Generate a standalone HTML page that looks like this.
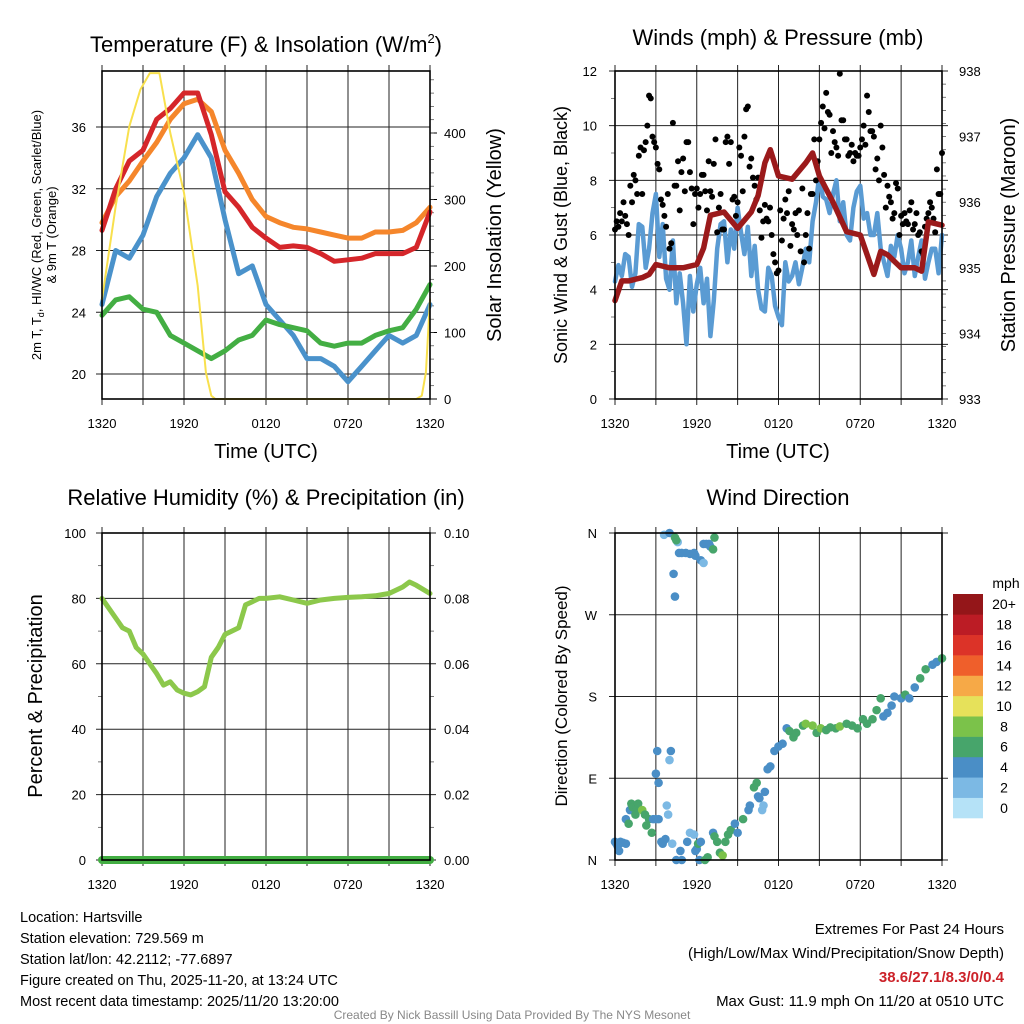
<!DOCTYPE html>
<html><head><meta charset="utf-8">
<style>
html,body{margin:0;padding:0;background:#fff;}
svg{display:block;font-family:"Liberation Sans",sans-serif;}
</style></head>
<body>
<svg id="chart" width="1024" height="1024" viewBox="0 0 1024 1024" xmlns="http://www.w3.org/2000/svg">
<rect width="1024" height="1024" fill="#fff"/>
<g id="layer"></g>
<text x="266" y="52" font-size="22" text-anchor="middle">Temperature (F) &amp; Insolation (W/m<tspan font-size="13" dy="-9">2</tspan><tspan dy="9">)</tspan></text>
<text x="778" y="45" font-size="22" text-anchor="middle">Winds (mph) &amp; Pressure (mb)</text>
<text x="266" y="505" font-size="22" text-anchor="middle">Relative Humidity (%) &amp; Precipitation (in)</text>
<text x="778" y="505" font-size="22" text-anchor="middle">Wind Direction</text>

<text transform="translate(41,235) rotate(-90)" font-size="13" text-anchor="middle">2m T, T<tspan font-size="9" dy="3">d</tspan><tspan dy="-3">, HI/WC (Red, Green, Scarlet/Blue)</tspan></text>
<text transform="translate(56,235) rotate(-90)" font-size="13" text-anchor="middle">&amp; 9m T (Orange)</text>
<text transform="translate(501,235) rotate(-90)" font-size="20" text-anchor="middle">Solar Insolation (Yellow)</text>
<text transform="translate(567,235) rotate(-90)" font-size="18" text-anchor="middle">Sonic Wind &amp; Gust (Blue, Black)</text>
<text transform="translate(1015,235) rotate(-90)" font-size="20" text-anchor="middle">Station Pressure (Maroon)</text>
<text transform="translate(42,696) rotate(-90)" font-size="20" text-anchor="middle">Percent &amp; Precipitation</text>
<text transform="translate(567,696) rotate(-90)" font-size="17" text-anchor="middle">Direction (Colored By Speed)</text>
<text x="266" y="458" font-size="20" text-anchor="middle">Time (UTC)</text>
<text x="778" y="458" font-size="20" text-anchor="middle">Time (UTC)</text>

<g font-size="14.5">
<text x="20" y="922">Location: Hartsville</text>
<text x="20" y="943">Station elevation: 729.569 m</text>
<text x="20" y="964">Station lat/lon: 42.2112; -77.6897</text>
<text x="20" y="985">Figure created on Thu, 2025-11-20, at 13:24 UTC</text>
<text x="20" y="1006">Most recent data timestamp: 2025/11/20 13:20:00</text>
</g>
<g font-size="15" text-anchor="end">
<text x="1004" y="934">Extremes For Past 24 Hours</text>
<text x="1004" y="958">(High/Low/Max Wind/Precipitation/Snow Depth)</text>
<text x="1004" y="982" fill="#cc2229" font-weight="bold">38.6/27.1/8.3/0/0.4</text>
<text x="1004" y="1006">Max Gust: 11.9 mph On 11/20 at 0510 UTC</text>
</g>
<text x="512" y="1019" font-size="12" fill="#888" text-anchor="middle">Created By Nick Bassill Using Data Provided By The NYS Mesonet</text>
</svg>
<script>
// ---- data (hours since 1320 UTC) ----
const xTickLabels = ["1320","1920","0120","0720","1320"];
const tempHours = [0,1,2,3,4,5,6,7,8,9,10,11,12,13,14,15,16,17,18,19,20,21,22,23,24];
const tempRed = [29.3,32,33.8,34.5,36.5,37.2,38.2,38.2,35.5,31.8,30.8,29.5,28.8,28.2,28.3,28.2,27.8,27.3,27.4,27.5,27.8,27.8,27.8,28.2,30.5];
const tempOrange = [29.8,31.5,32.5,33.8,35,36.5,37.5,37.8,37,34.5,33,31.3,30.2,29.8,29.5,29.4,29.2,29,28.8,28.8,29.2,29.2,29.3,29.8,30.8];
const tempBlue = [24.5,28,27.5,29,31.5,33,34,35.5,34,30,26.5,27,24.5,23.5,22.5,21,21,20.5,19.5,20.5,21.5,22.5,22,22.5,24.5];
const tempGreen = [23.8,24.8,25,24.2,24,22.5,22,21.5,21,21.5,22.2,22.5,23.5,23.2,23,22.8,22,21.8,22,22,22.5,22.8,23,24.2,25.8];
const solarHours = [0,1,2,2.8,3.5,4.2,5,6,7,7.6,8,8.3,23,23.4,23.7,24];
const solarValues = [150,290,410,465,490,490,400,310,170,40,5,0,0,5,40,150];
const tempTicks = [20,24,28,32,36];
const solarTicks = [0,100,200,300,400];

// wind speed every 15 min
const windSpeed = [4.3,4.9,4.5,5.3, 5.2,4.1,4.6,6.4, 6.3,4.8,5.5,6.8, 7.5,5.2,6.4,4.4, 4.0,5.8,3.5,4.6, 3.5,2.0,4.5,3.2, 4.2,4.8,3.5,4.4, 2.3,3.6,5.5,6.4, 6.5,5.0,6.2,5.5, 7.0,6.1,5.3,6.3, 4.5,5.6,4.0,3.3, 3.2,4.8,4.5,3.4, 3.0,2.7,5.0,4.3, 4.5,5.0,4.2,4.8, 5.5,5.0,6.5,7.2, 8.2,7.4,7.3,6.8, 7.5,8.0,6.5,7.2, 6.0,5.8,7.0,7.6, 7.8,6.6,6.8,6.0, 6.0,6.8,5.5,5.0, 4.5,5.6,5.2,6.0, 5.5,4.6,5.0,5.8, 4.5,5.2,5.8,4.4, 5.0,5.5,5.5,4.6, 6.0];
// gusts every 15 min (on the quarter hour) and offset by 7.5 min
const gustValues = [6.2,6.3,6.5,6.7,6.0,7.2,8.0,8.9,7.5,9.4,11.1,9.6,9.2,8.4,7.1,6.3,5.5,10.1,7.8,6.9,8.8,9.4,8.3,6.4,7.7,7.5,8.2,6.9,7.6,8.6,6.1,7.5,6.2,9.6,9.4,7.4,7.2,8.9,9.6,10.7,8.8,7.8,8.1,5.9,7.1,6.5,6.0,5.0,4.7,5.8,7.3,7.6,6.4,6.8,6.9,7.7,6.0,5.5,7.5,8.0,9.5,10.7,11.2,10.4,9.8,9.2,11.9,10.2,9.5,9.0,8.7,8.9,9.2,10.0,11.1,9.8,9.6,8.8,10.0,8.2,7.8,7.2,6.8,7.7,6.7,6.8,6.4,7.2,6.4,6.0,5.4,6.3,6.8,7.0,6.1,7.5,9.0];
const gustValuesOffset = [6.5,6.8,7.2,6.4, 7.8,8.2,7.5,9.2, 9.1,10.0,11.0,9.4, 8.6,7.3,6.7,7.5, 5.7,7.8,8.7,8.3, 7.6,9.4,7.7,7.5, 7.0,8.2,7.6,8.7, 7.4,9.5,7.0,6.2, 9.4,8.6,7.3,6.7, 9.2,7.6,10.6,8.5, 8.1,7.3,6.9,6.5, 6.6,7.0,5.3,4.6, 6.9,6.6,6.8,5.6, 6.2,6.0,5.4,5.0, 6.8,7.5,9.5,8.7, 10.1,9.9,10.5,9.0, 9.4,8.9,10.2,9.5, 8.9,9.3,9.0,8.9, 9.5,9.3,10.5,9.8, 8.4,8.0,9.2,7.0, 7.4,6.6,7.9,6.0, 6.4,6.5,6.9,6.2, 6.8,6.1,5.3,6.6, 7.2,6.6,8.4,7.5];
const pressHours = [0,0.5,1,2,2.5,3,4,5,6,6.5,7,8,9,10,10.5,11,11.4,12,13,14,14.5,15,16,17,18,19,19.5,20,21,22,22.5,23,24];
const pressValues = [934.5,934.8,934.8,934.85,934.9,935.05,935.0,935.0,935.05,935.3,935.8,935.85,935.6,935.85,936.1,936.6,936.8,936.4,936.35,936.6,936.75,936.4,936.0,935.55,935.5,934.9,935.25,935.2,935.0,935.0,934.95,935.7,935.65];
const windTicks = [0,2,4,6,8,10,12];
const pressTicks = [933,934,935,936,937,938];

const rhHours = [0,1,1.5,2,2.5,3,3.5,4,4.5,5,5.5,6,6.5,7,7.5,8,8.5,9,9.5,10,10.5,11,11.5,12,13,14,15,16,17,18,19,20,21,22,22.5,23,24];
const rhValues = [80,74,71,70,65,63,60,57,53.5,54.5,52,51,50.5,51.5,53,62,65,69,70,71,78,79,80,80,80.5,79.5,78.5,79.5,80,80.3,80.5,80.8,81.5,83.5,85,84,81.5];
const precipValues = [0,0];
const rhTicks = [0,20,40,60,80,100];
const precipTickLabels = ["0.00","0.02","0.04","0.06","0.08","0.10"];

const dirHours = [0,0.1,0.2,0.3,0.4,0.6,0.8,0.8,1.0,1.1,1.2,1.3,1.5,1.6,1.7,2.0,2.2,2.3,2.5,2.7,2.8,3.0,3.2,3.0,3.1,3.2,3.4,3.5,3.7,3.8,3.9,4.1,4.0,4.2,4.5,4.8,4.9,5.3,5.5,5.8,5.9,6.0,6.1,6.2,6.3,6.6,6.8,7.2,7.3,7.5,7.7,7.9,8.1,8.3,8.5,8.8,9.0,9.4,9.8,9.9,10.2,10.4,10.5,10.6,10.8,10.9,11.0,11.2,11.4,11.7,12.0,12.3,12.6,12.8,13.1,13.3,13.8,14.0,14.5,14.8,15.1,15.5,15.8,16.2,16.5,17.0,17.4,17.8,18.2,18.5,18.9,19.2,19.5,19.7,20.0,20.3,20.5,21.0,21.3,21.6,22.0,22.4,22.8,23.3,23.6,24.0,3.6,4.0,4.4,4.6,4.5,4.7,4.9,5.2,5.5,5.8,5.9,6.5,6.7,6.9,7.0,7.2,7.3,6.3,6.5,4.3,4.4];
const dirDegrees = [20,18,15,10,20,19,18,45,40,55,62,58,50,58,62,55,50,38,45,30,45,45,45,95,120,85,20,18,23,60,50,120,110,18,0,10,0,20,30,28,10,12,18,0,20,0,3,30,26,20,8,5,20,28,33,40,30,45,55,60,80,85,70,68,55,60,75,100,103,120,125,128,145,142,135,140,148,150,148,140,145,143,146,145,147,150,148,145,155,150,155,165,178,158,162,170,180,178,182,178,190,200,210,215,218,222,358,360,355,350,352,338,338,338,337,338,335,348,348,348,345,342,355,330,327,315,290];
const dirSpeeds = [4,4,4,4,4,4,4,4,6,4,6,6,6,6,6,8,6,6,6,6,4,4,4,4,4,4,4,4,4,2,2,4,2,2,4,4,4,4,2,2,4,4,6,4,4,6,6,4,6,6,6,8,6,6,6,4,4,6,4,4,6,6,4,4,2,2,4,4,4,4,4,4,4,6,6,6,6,8,8,6,8,6,6,6,8,6,6,6,6,6,6,6,6,4,4,4,4,4,6,4,4,6,6,4,4,6,2,4,6,2,6,4,4,4,4,4,4,4,4,4,4,6,6,4,2,4,4];
const dirTickLabels = ["N","E","S","W","N"];
const speedBins = ["0","2","4","6","8","10","12","14","16","18","20+"];
const speedColors = ["#b5e2f7","#7cb9e4","#4a8ec6","#47a56b","#7bc24a","#e6e15a","#f6a947","#ef5f2b","#dc3328","#bc1c25","#941619"];

// ---- helpers ----
const NS = "http://www.w3.org/2000/svg";
const layer = document.getElementById('layer');
function mk(tag, attrs, parent){const e=document.createElementNS(NS,tag);for(const k in attrs)e.setAttribute(k,attrs[k]);(parent||layer).appendChild(e);return e;}
function linear(d0,d1,r0,r1){return v=>r0+(v-d0)*(r1-r0)/(d1-d0);}

const P1={l:102,r:430,t:71,b:399}, P2={l:615,r:942,t:71,b:399}, P3={l:102,r:430,t:533,b:860}, P4={l:615,r:942,t:533,b:860};

function frame(P,name){
  const g=mk('g',{});
  
  
  const xs=linear(0,24,P.l,P.r);
  for(let h=0;h<=24;h+=3){
    mk('line',{x1:xs(h),x2:xs(h),y1:P.t-6,y2:P.b+6,stroke:'#222','stroke-width':1},g);
  }
  return {g,xs};
}
function hgrid(P,g,y,left,right){
  mk('line',{x1:P.l-(left?6:0),x2:P.r+(right?6:0),y1:y,y2:y,stroke:'#222','stroke-width':1},g);
}
function border(P,name){
  const r=mk('rect',{x:P.l,y:P.t,width:P.r-P.l,height:P.b-P.t,fill:'none',stroke:'#000','stroke-width':1.6});
  
  
}
function xLabels(P,name){
  const xs=linear(0,24,P.l,P.r);
  xTickLabels.forEach((t,i)=>{
    const e=mk('text',{x:xs(i*6),y:P.b+29,'font-size':13,'text-anchor':'middle'});
    e.textContent=t;
    
    
  });
}
function path(xsArr,ysArr,xs,ys,attrs,name){
  let d='';
  xsArr.forEach((h,i)=>{d+=(i?'L':'M')+xs(h).toFixed(1)+','+ys(ysArr[i]).toFixed(1);});
  const p=mk('path',Object.assign({d,fill:'none','stroke-linejoin':'round','stroke-linecap':'round'},attrs));
  
  
  return p;
}
function label(x,y,txt,anchor,size,name){
  const e=mk('text',{x,y,'font-size':size||13,'text-anchor':anchor});
  e.textContent=txt;
  
  
}

// ---- Panel 1 ----
{
  const {g,xs}=frame(P1,'temperature');
  const yT=linear(20,36,374,127), yS=linear(0,400,399,133);
  tempTicks.forEach(v=>{hgrid(P1,g,yT(v),true,false);label(P1.l-16,yT(v)+5,String(v),'end',13,'temp-y-tick-label');});
  solarTicks.forEach(v=>{mk('line',{x1:P1.r,x2:P1.r+7,y1:yS(v),y2:yS(v),stroke:'#000'},g);label(P1.r+14,yS(v)+5,String(v),'start',13,'solar-y-tick-label');});
  for(let v=20;v<=480;v+=20){mk('line',{x1:P1.r,x2:P1.r+4,y1:yS(v),y2:yS(v),stroke:'#444','stroke-width':0.7},g);}
  path(tempHours,tempOrange,xs,yT,{stroke:'#f5862b','stroke-width':5},'orange-9m-temp-line');
  path(tempHours,tempRed,xs,yT,{stroke:'#d5262a','stroke-width':5},'red-2m-temp-line');
  path(tempHours,tempBlue,xs,yT,{stroke:'#4a92cb','stroke-width':5},'blue-windchill-line');
  path(tempHours,tempGreen,xs,yT,{stroke:'#43ae43','stroke-width':5},'green-dewpoint-line');
  path(solarHours,solarValues,xs,yS,{stroke:'#f8e04d','stroke-width':2},'yellow-solar-line');
  border(P1,'temperature');
  xLabels(P1,'temperature');
}
// ---- Panel 2 ----
{
  const {g,xs}=frame(P2,'winds');
  const yW=linear(0,12,399,71), yP=linear(933,938,399,71);
  windTicks.forEach(v=>{hgrid(P2,g,yW(v),true,true);label(P2.l-18,yW(v)+5,String(v),'end',13,'wind-y-tick-label');});
  pressTicks.forEach(v=>label(P2.r+17,yP(v)+5,String(v),'start',13,'pressure-y-tick-label'));
  for(let v=933;v<=938;v+=0.2){mk('line',{x1:P2.r,x2:P2.r+4,y1:yP(v),y2:yP(v),stroke:'#444','stroke-width':0.7},g);}
  for(let v=1;v<12;v+=2){mk('line',{x1:P2.l-4,x2:P2.l,y1:yW(v),y2:yW(v),stroke:'#444','stroke-width':0.7},g);}
  const windHours = windSpeed.map((v,i)=>i*0.25);
  path(windHours,windSpeed,xs,yW,{stroke:'#5a9bd3','stroke-width':4.5},'blue-wind-speed-line');
  gustValues.forEach((v,i)=>{
    const c=mk('circle',{cx:xs(i*0.25),cy:yW(v),r:3,fill:'#000'});
    
    
  });
  gustValuesOffset.forEach((v,i)=>{
    const c=mk('circle',{cx:xs(i*0.25+0.125),cy:yW(v),r:3,fill:'#000'});
    
    
  });
  path(pressHours,pressValues,xs,yP,{stroke:'#9b1a1b','stroke-width':5.5},'maroon-pressure-line');
  border(P2,'winds');
  xLabels(P2,'winds');
}
// ---- Panel 3 ----
{
  const {g,xs}=frame(P3,'humidity');
  const yR=linear(0,100,860,533);
  rhTicks.forEach((v,i)=>{hgrid(P3,g,yR(v),true,true);label(P3.l-16,yR(v)+5,String(v),'end',13,'rh-y-tick-label');label(P3.r+14,yR(v)+5,precipTickLabels[i],'start',13,'precip-y-tick-label');});
  for(let v=10;v<100;v+=20){mk('line',{x1:P3.r,x2:P3.r+4,y1:yR(v),y2:yR(v),stroke:'#444','stroke-width':0.7},g);mk('line',{x1:P3.l-4,x2:P3.l,y1:yR(v),y2:yR(v),stroke:'#444','stroke-width':0.7},g);}
  path(rhHours,rhValues,xs,yR,{stroke:'#8cc84b','stroke-width':5},'rh-line');
  const yPr=linear(0,0.1,860,533);
  path([0,24],precipValues,xs,yPr,{stroke:'#43ae43','stroke-width':8},'precip-line');
  border(P3,'humidity');
  xLabels(P3,'humidity');
}
// ---- Panel 4 ----
{
  const {g,xs}=frame(P4,'direction');
  const yD=linear(0,360,860,533);
  dirTickLabels.forEach((t,i)=>{hgrid(P4,g,yD(i*90),true,true);label(P4.l-18,yD(i*90)+5,t,'end',13,'direction-y-tick-label');});
  dirHours.forEach((h,i)=>{
    const bin=Math.min(10,Math.floor(dirSpeeds[i]/2));
    const c=mk('circle',{cx:xs(h),cy:yD(dirDegrees[i]),r:4.3,fill:speedColors[bin]});
    
    
  });
  border(P4,'direction');
  xLabels(P4,'direction');
  const cb=mk('g',{});
  
  
  const bh=(818-594)/11;
  speedBins.forEach((b,i)=>{
    const y=818-(i+1)*bh;
    mk('rect',{x:953,y:y,width:30,height:bh+0.3,fill:speedColors[i]},cb);
    label(1004,y+bh/2+5,b,'middle',14,'colorbar-label');
  });
  label(1006,588,'mph','middle',14,'colorbar-unit');
}
</script>
</body></html>
